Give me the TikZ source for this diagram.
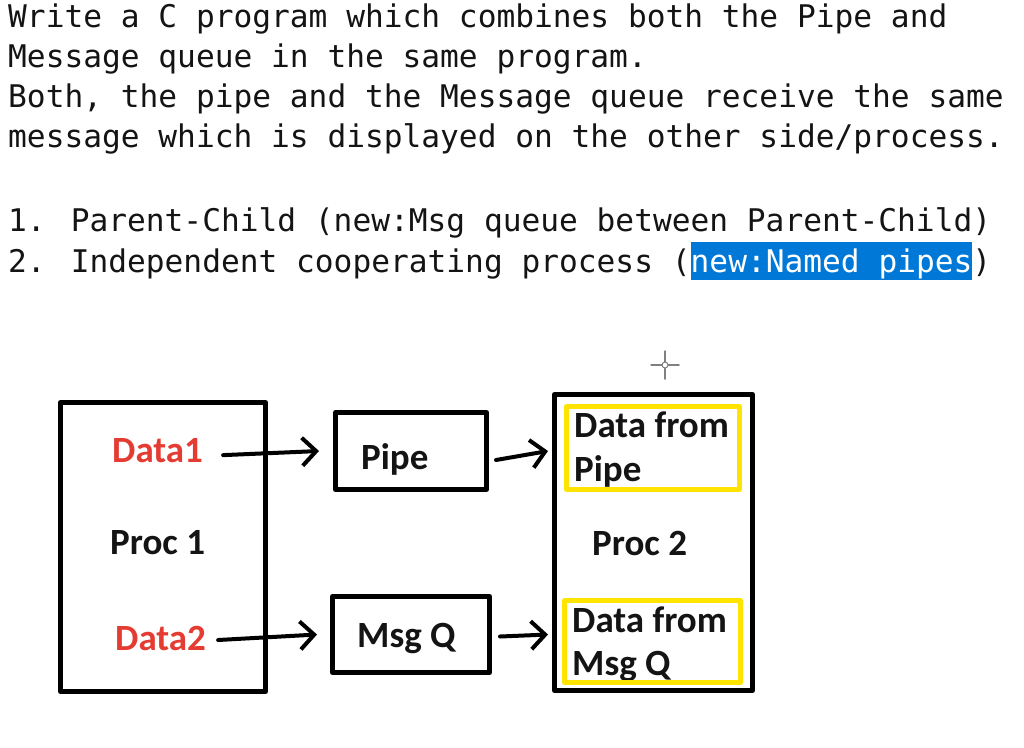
\documentclass[tikz,border=0pt]{standalone}
\usepackage{fontspec}
\setmainfont{Carlito}
\newfontfamily\monofont{DejaVu Sans Mono}
\usetikzlibrary{arrows.meta}

\definecolor{inkgray}{RGB}{20,20,20}
\definecolor{datared}{RGB}{228,60,50}
\definecolor{markyellow}{RGB}{255,228,0}
\definecolor{selblue}{RGB}{0,120,215}

\begin{document}
\begin{tikzpicture}[x=1pt, y=-1pt, line cap=round, line join=round,
    task/.style={font=\monofont\fontsize{31.2}{38}\selectfont, text=inkgray,
        inner sep=0pt, anchor=base west},
    lbl/.style={font=\bfseries\fontsize{37}{44}\selectfont, text=inkgray,
        inner sep=0pt, anchor=base west},
    box/.style={draw=black, line width=5pt, inner sep=0pt},
    markbox/.style={draw=markyellow, line width=5pt, inner sep=0pt},
    flow/.style={line width=4pt, -{Straight Barb[length=14pt, width=28pt]}}]

    % ── Page (pixel grid of the screenshot, y downwards) ─────────────────────
    \useasboundingbox[fill=white] (0,0) rectangle (1024,747);

    % ── Task text ────────────────────────────────────────────────────────────
    \node[task] (line1) at (8,27)  {Write a C program which combines both the Pipe and};
    \node[task] (line2) at (8,67)  {Message queue in the same program.};
    \node[task] (line3) at (8,107) {Both, the pipe and the Message queue receive the same};
    \node[task] (line4) at (8,147) {message which is displayed on the other side/process.};
    \node[task] (line5) at (8,231) {1. Parent-Child (new:Msg queue between Parent-Child)};
    \node[task] (line6) at (8,272) {2. Independent cooperating process ({\fboxsep=0pt\colorbox{selblue}{\rule[-8pt]{0pt}{38pt}\textcolor{white}{new:Named pipes}}})};

    % ── Mouse cursor ─────────────────────────────────────────────────────────
    \draw[gray, line width=1.5pt] (665,351) -- (665,379) (651,365) -- (679,365);
    \draw[gray, line width=1pt, fill=white] (665,365) circle (3pt);

    % ── Boxes ────────────────────────────────────────────────────────────────
    \node[box, minimum width=205pt, minimum height=289pt] (proc1) at (163,547) {};
    \node[box, minimum width=151pt, minimum height=77pt]  (pipe)  at (411,451) {};
    \node[box, minimum width=157pt, minimum height=76pt]  (msgq)  at (411,634.5) {};
    \node[box, minimum width=198pt, minimum height=296pt] (proc2) at (653.5,542.5) {};

    % ── Labels ───────────────────────────────────────────────────────────────
    \node[lbl, text=datared] (data1) at (112,462) {Data1};
    \node[lbl] (proc1lbl) at (110,554) {Proc 1};
    \node[lbl, text=datared] (data2) at (115,650) {Data2};
    \node[lbl] (pipelbl) at (361,469) {Pipe};
    \node[lbl] (msgqlbl) at (357,647) {Msg Q};
    \node[lbl] (proc2lbl) at (592,555) {Proc 2};
    \node[lbl] (fromp1) at (574,437) {Data from};
    \node[lbl] (fromp2) at (574,481) {Pipe};
    \node[lbl] (fromq1) at (572,632) {Data from};
    \node[lbl] (fromq2) at (572,675) {Msg Q};

    % yellow marks drawn over the text (they clip the last descender)
    \node[markbox, minimum width=173pt, minimum height=83pt] (pipemark) at (653,448) {};
    \node[markbox, minimum width=176pt, minimum height=82pt] (msgqmark) at (652.5,641.5) {};

    % ── Arrows ───────────────────────────────────────────────────────────────
    \draw[flow] ([xshift=20pt, yshift=-5pt]data1.east) -- ([xshift=-14pt]pipe.west);
    \draw[flow] ([xshift=7pt, yshift=-9pt]pipe.east) -- ([xshift=-4pt]proc2.west |- pipe.east);
    \draw[flow] ([xshift=12pt, yshift=-2pt]data2.east) -- ([xshift=-13pt]msgq.west);
    \draw[flow] ([xshift=8pt, yshift=-2pt]msgq.east) -- ([xshift=-4pt]proc2.west |- msgq.east);

\end{tikzpicture}
\end{document}
